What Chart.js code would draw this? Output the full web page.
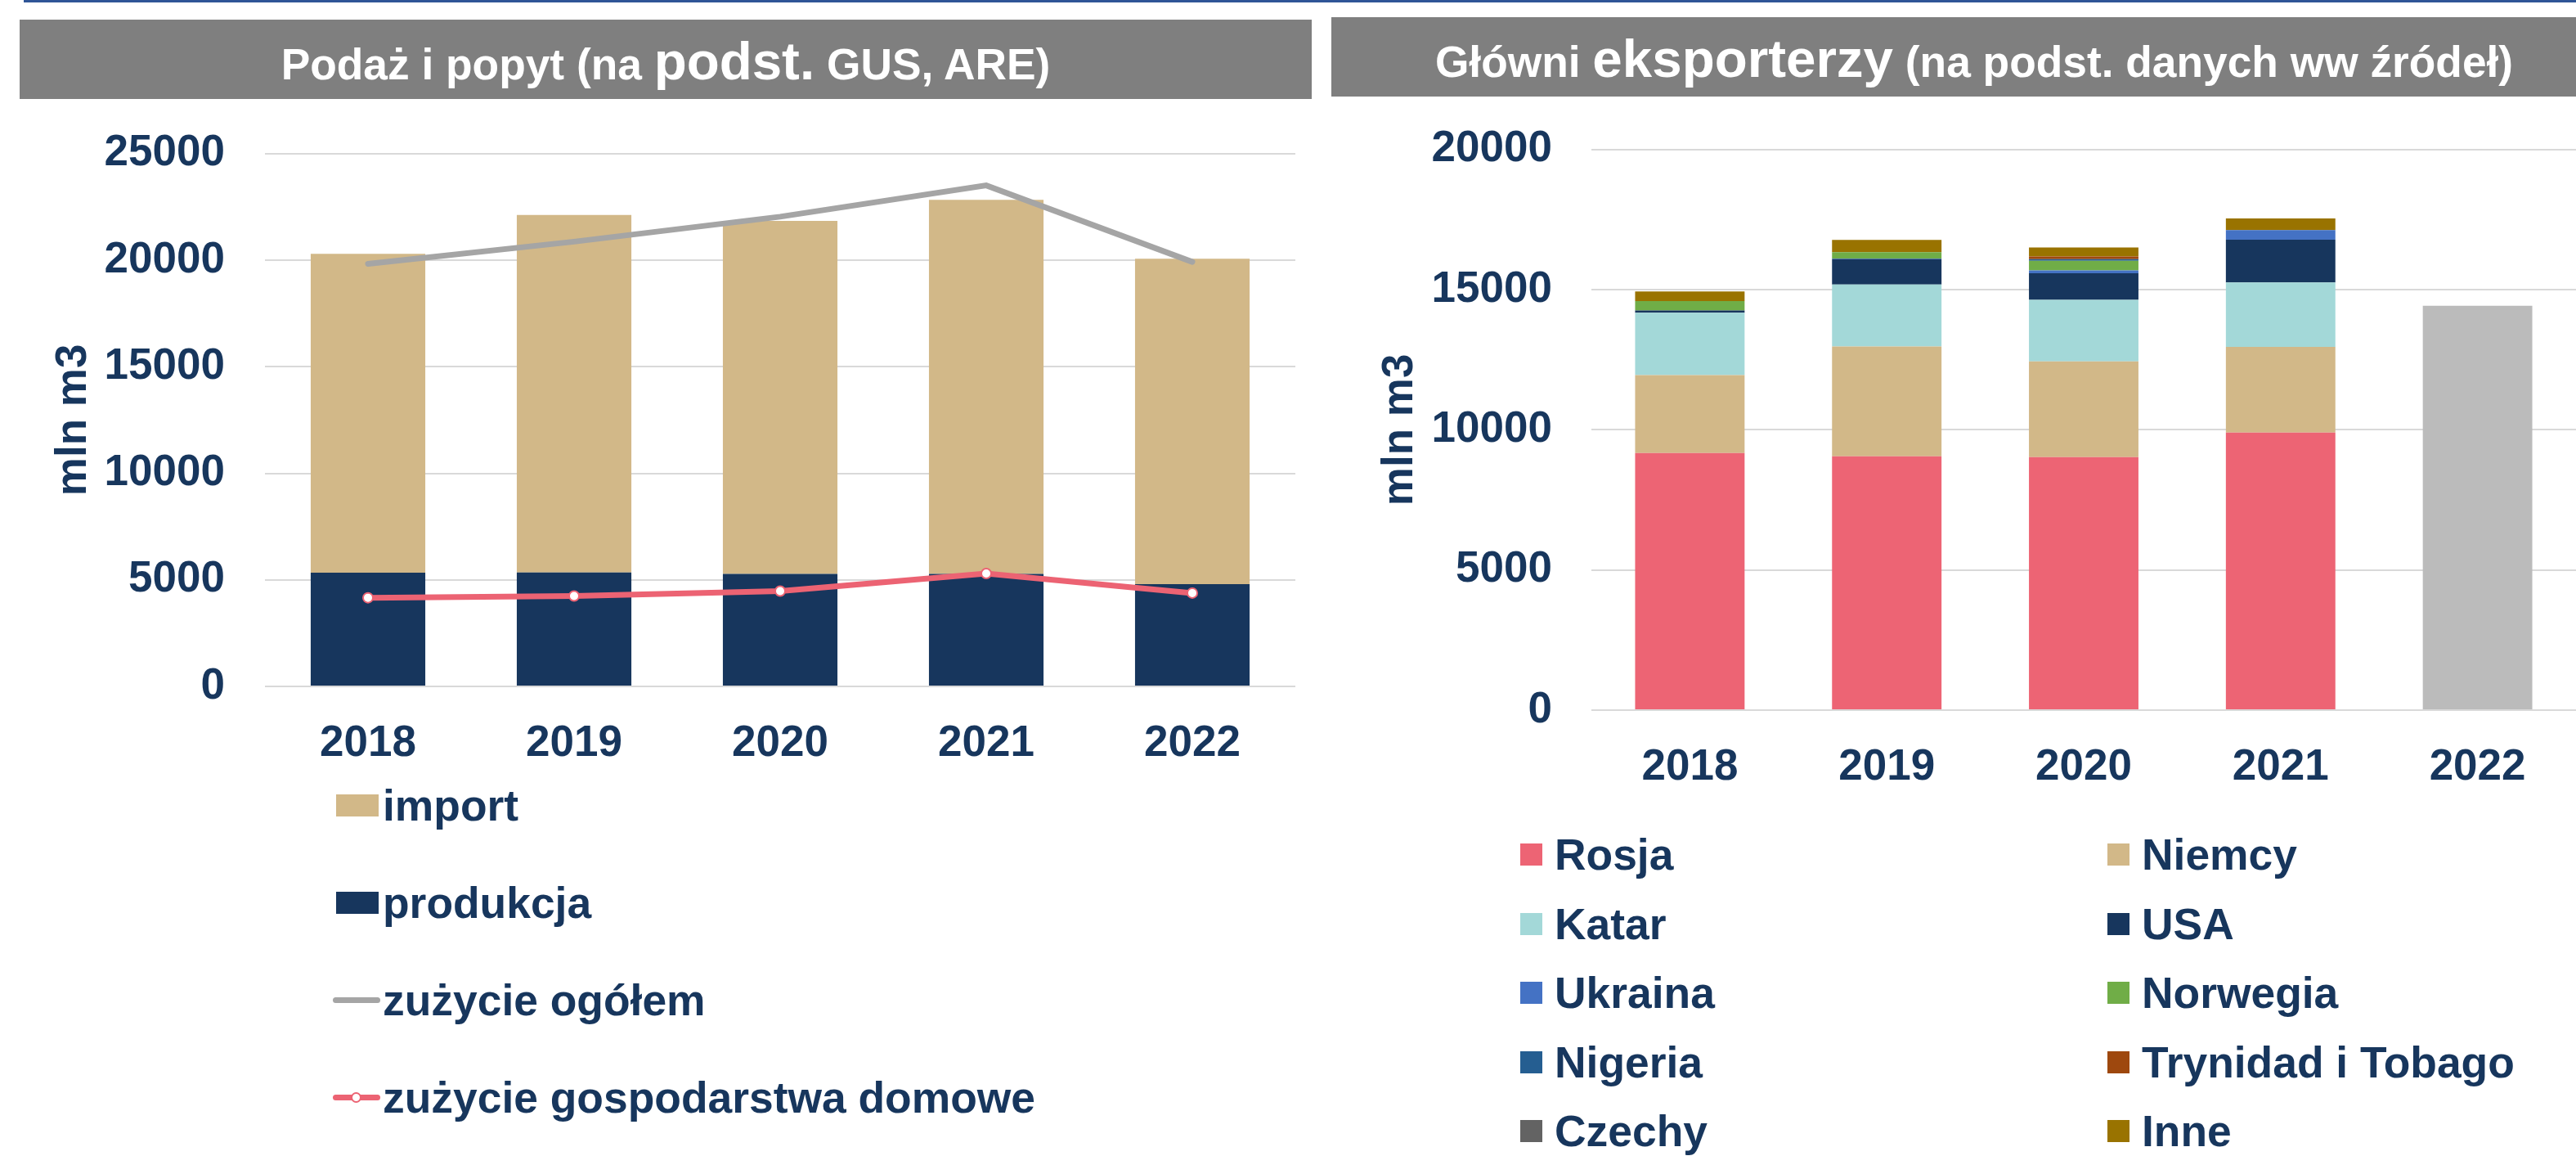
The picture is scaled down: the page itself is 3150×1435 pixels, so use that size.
<!DOCTYPE html>
<html>
<head>
<meta charset="utf-8">
<script src="https://cdn.jsdelivr.net/npm/chart.js@4.4.1/dist/chart.umd.min.js"></script>
<style>
  body { margin: 0; width: 3150px; height: 1435px; background: #fff; overflow: hidden; position: relative;
         font-family: "Liberation Sans", Arial, sans-serif; color: #17365D; }
  .topline { position: absolute; left: 29px; top: 0; width: 3121px; height: 3px; background: #2F5597; }
  .header { position: absolute; height: 97px; background: #7F7F7F; color: #fff;
            font-weight: bold; font-size: 53.3px; white-space: nowrap; overflow: hidden; }
  .header .t { position: absolute; top: 7px; left: 0; text-align: center; line-height: 96px; }
  .header .big { font-size: 65.5px; line-height: 0; }
  .box { position: absolute; }
  .legend-item { position: absolute; display: flex; align-items: center; height: 62px;
                 font-weight: bold; font-size: 53.4px; white-space: nowrap; }
</style>
</head>
<body>
<div class="topline"></div>
<div class="header" style="left:24px;top:24px;width:1580px;">
  <div class="t" style="width:1580px;">Podaż i popyt (na <span class="big">podst.</span> GUS, ARE)</div>
</div>
<div class="header" style="left:1628px;top:21px;width:1522px;">
  <div class="t" style="width:1572px;">Główni <span class="big">eksporterzy</span> (na podst. danych ww źródeł)</div>
</div>

<div class="box" style="left:0;top:107px;width:1600px;height:860px;"><canvas id="left" width="1600" height="860"></canvas></div>
<div class="box" style="left:1620px;top:103px;width:1530px;height:870px;"><canvas id="right" width="1530" height="870"></canvas></div>
<div id="legendLeft"></div>
<div id="legendRight"></div>

<script>
// lata
const years = ['2018', '2019', '2020', '2021', '2022'];

// Podaż i popyt (mln m3)
const produkcja = [5340, 5350, 5280, 5280, 4800];
const importGaz = [14960, 16770, 16560, 17550, 15270];
const zuzycieOgolem = [19830, 20870, 22040, 23510, 19920];
const zuzycieDomowe = [4160, 4240, 4470, 5300, 4380];
const leftTicks = [0, 5000, 10000, 15000, 20000, 25000];

// Główni eksporterzy (mln m3)
const exporters = ['Rosja', 'Niemcy', 'Katar', 'USA', 'Ukraina', 'Norwegia', 'Nigeria', 'Trynidad i Tobago', 'Czechy', 'Inne'];
const rosja = [9170, 9055, 9025, 9900, 0];
const niemcy = [2785, 3920, 3415, 3060, 0];
const katar = [2220, 2210, 2200, 2295, 0];
const usa = [80, 905, 945, 1530, 0];
const ukraina = [0, 20, 105, 340, 0];
const norwegia = [340, 225, 340, 0, 0];
const nigeria = [0, 0, 60, 0, 0];
const trynidad = [0, 0, 95, 0, 0];
const czechy = [0, 0, 0, 0, 0];
const inne = [340, 440, 320, 420, 0];
const razem2022 = [null, null, null, null, 14430];
const rightTicks = [0, 5000, 10000, 15000, 20000];

const navy = '#17365D';
const exporterColors = ['#ED6474', '#D2B888', '#A3D8D8', '#17365D', '#4472C4', '#70AD47', '#255E91', '#9E480E', '#636363', '#997300'];
const exporterData = [rosja, niemcy, katar, usa, ukraina, norwegia, nigeria, trynidad, czechy, inne];

const tickFont = { family: '"Liberation Sans", Arial, sans-serif', size: 53, weight: 'bold' };
const grid = { color: '#D9D9D9', lineWidth: 2, drawTicks: false };

// uwaga: Chart.js dodaje ticks.padding + pol wysokosci etykiety nad obszarem wykresu
function yAxis(max, ticks, titlePad, tickPad, width) {
  return {
    stacked: true, min: 0, max: max,
    afterBuildTicks: s => { s.ticks = ticks.map(v => ({ value: v })); },
    afterFit: s => { s.width = width; },
    grid: grid, border: { display: false },
    ticks: { color: navy, font: tickFont, padding: tickPad, callback: v => String(v) },
    title: { display: true, text: 'mln m3', color: navy, font: tickFont, padding: { top: titlePad, bottom: 0 } }
  };
}
function xAxis(height) {
  return {
    stacked: true,
    afterFit: s => { s.height = height; },
    grid: { display: false }, border: { display: false },
    ticks: { color: navy, font: tickFont, padding: 31 }
  };
}

new Chart(document.getElementById('left'), {
  type: 'bar',
  data: {
    labels: years,
    datasets: [
      { type: 'line', label: 'zużycie ogółem', data: zuzycieOgolem, stack: 'l1', order: 0,
        borderColor: '#A5A5A5', borderWidth: 7, pointRadius: 0, tension: 0, borderCapStyle: 'round' },
      { type: 'line', label: 'zużycie gospodarstwa domowe', data: zuzycieDomowe, stack: 'l2', order: 0,
        borderColor: '#EC6373', borderWidth: 7, pointRadius: 6, pointBackgroundColor: '#fff',
        pointBorderColor: '#EC6373', pointBorderWidth: 2, tension: 0 },
      { label: 'produkcja', data: produkcja, backgroundColor: navy, stack: 'b', order: 1,
        categoryPercentage: 1, barPercentage: 0.556 },
      { label: 'import', data: importGaz, backgroundColor: '#D2B888', stack: 'b', order: 1,
        categoryPercentage: 1, barPercentage: 0.556 }
    ]
  },
  options: {
    responsive: false, animation: false,
    layout: { padding: { left: 0, top: 0, right: 16, bottom: 0 } },
    plugins: { legend: { display: false }, tooltip: { enabled: false } },
    scales: { x: xAxis(128), y: yAxis(25000, leftTicks, 59, 49, 324) }
  }
});

const rightSets = exporters.map((name, i) => ({
  label: name, data: exporterData[i], backgroundColor: exporterColors[i], stack: 'b',
  categoryPercentage: 1, barPercentage: 0.556
}));
rightSets.push({ label: '2022', data: razem2022, backgroundColor: '#BBBBBB', stack: 'b',
  categoryPercentage: 1, barPercentage: 0.556 });

new Chart(document.getElementById('right'), {
  type: 'bar',
  data: { labels: years, datasets: rightSets },
  options: {
    responsive: false, animation: false,
    layout: { padding: { left: 0, top: 0, right: 0, bottom: 0 } },
    plugins: { legend: { display: false }, tooltip: { enabled: false } },
    scales: { x: xAxis(105), y: yAxis(20000, rightTicks, 61, 48, 326) }
  }
});

// legendy (HTML)
function addItem(parent, left, centerY, marker, text) {
  const d = document.createElement('div');
  d.className = 'legend-item';
  d.style.left = left + 'px';
  d.style.top = (centerY - 31) + 'px';
  d.appendChild(marker);
  const s = document.createElement('span');
  s.textContent = text;
  d.appendChild(s);
  parent.appendChild(d);
}
function rect(w, h, color, ml, mr) {
  const m = document.createElement('span');
  m.style.cssText = `display:inline-block;width:${w}px;height:${h}px;background:${color};margin-left:${ml}px;margin-right:${mr}px;`;
  return m;
}
function lineMarker(color, dot) {
  const m = document.createElement('span');
  m.style.cssText = `position:relative;display:inline-block;width:58px;height:7px;border-radius:4px;background:${color};margin-right:3px;`;
  if (dot) {
    const c = document.createElement('span');
    c.style.cssText = `position:absolute;left:22px;top:-3px;width:9px;height:9px;border-radius:50%;background:#fff;border:2px solid ${color};`;
    m.appendChild(c);
  }
  return m;
}
const ll = document.getElementById('legendLeft');
addItem(ll, 407, 984.5, rect(52, 27, '#D2B888', 4, 5), 'import');
addItem(ll, 407, 1103.5, rect(52, 27, navy, 4, 5), 'produkcja');
addItem(ll, 407, 1222.5, lineMarker('#A5A5A5', false), 'zużycie ogółem');
addItem(ll, 407, 1341.5, lineMarker('#EC6373', true), 'zużycie gospodarstwa domowe');

const lr = document.getElementById('legendRight');
exporters.forEach((name, i) => {
  const col = i % 2, row = Math.floor(i / 2);
  addItem(lr, col ? 2577 : 1859, 1044.5 + row * 84.5, rect(27, 27, exporterColors[i], 0, 15), name);
});
</script>
</body>
</html>
